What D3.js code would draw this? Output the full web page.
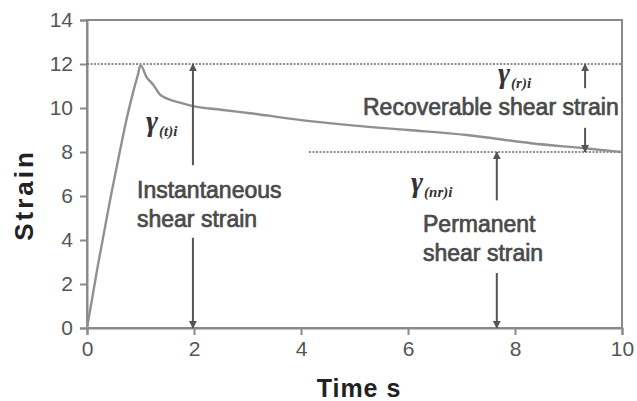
<!DOCTYPE html>
<html>
<head>
<meta charset="utf-8">
<script src="https://cdn.jsdelivr.net/npm/d3@7"></script>
<style>
  html, body { margin: 0; padding: 0; background: #fff; }
  svg { display: block; }
</style>
</head>
<body>
<svg id="chart" width="637" height="401"></svg>
<script>
// Creep-recovery strain curve
const timeS = [0, 0.2, 0.43, 0.62, 0.75, 0.86, 0.95, 1.0, 1.11, 1.24, 1.36, 1.49, 1.74, 1.96, 2.5, 3.05, 4.0, 5.0, 6.0, 7.1, 8.3, 9.3, 10];
const strain = [0, 2.8, 5.8, 8.1, 9.6, 10.7, 11.5, 11.95, 11.42, 11.05, 10.62, 10.44, 10.24, 10.1, 9.92, 9.76, 9.45, 9.2, 9.0, 8.77, 8.4, 8.17, 8.0];

const xTicks = [0, 2, 4, 6, 8, 10];
const yTicks = [0, 2, 4, 6, 8, 10, 12, 14];

// Reference levels: peak strain and permanent strain
const peakLevel = 12;
const permLevel = 8;
const permLineStart = 4.15;

// Arrows: [time, fromStrain, toStrain]
const arrows = [
  [1.98, 7.4, 12],
  [1.98, 4.1, 0],
  [9.31, 10.9, 12],
  [9.31, 9.1, 8],
  [7.66, 5.8, 8],
  [7.66, 2.5, 0]
];

const svg = d3.select("#chart");
const x = d3.scaleLinear().domain([0, 10]).range([87, 622]);
const y = d3.scaleLinear().domain([0, 14]).range([328, 20]);

const axisGray = "#8a8a8a";

svg.append("defs").append("marker")
  .attr("id", "head")
  .attr("viewBox", "0 0 10 10")
  .attr("refX", 9).attr("refY", 5)
  .attr("markerWidth", 4).attr("markerHeight", 4)
  .attr("markerUnits", "strokeWidth")
  .attr("orient", "auto")
  .append("path").attr("d", "M0,0 L10,5 L0,10 Z").attr("fill", "#555");

// frame
svg.append("rect")
  .attr("x", x(0)).attr("y", y(14))
  .attr("width", x(10) - x(0)).attr("height", y(0) - y(14))
  .attr("fill", "none").attr("stroke", axisGray).attr("stroke-width", 2);

// axes
const xAxis = svg.append("g")
  .attr("transform", `translate(0,${y(0)})`)
  .call(d3.axisBottom(x).tickValues(xTicks).tickSize(7).tickPadding(6).tickFormat(d3.format("d")));
const yAxis = svg.append("g")
  .attr("transform", `translate(${x(0)},0)`)
  .call(d3.axisLeft(y).tickValues(yTicks).tickSize(7).tickPadding(7).tickFormat(d3.format("d")));

[xAxis, yAxis].forEach(g => {
  g.select(".domain").attr("stroke", axisGray).attr("stroke-width", 2);
  g.selectAll(".tick line").attr("stroke", axisGray).attr("stroke-width", 2);
  g.selectAll(".tick text")
    .attr("fill", "#555")
    .style("font-family", "'Liberation Sans', Arial, sans-serif")
    .style("font-size", "21px");
});

// dotted reference lines
svg.append("line")
  .attr("x1", x(0)).attr("x2", x(10))
  .attr("y1", y(peakLevel)).attr("y2", y(peakLevel))
  .attr("stroke", "#666").attr("stroke-width", 1.6).attr("stroke-dasharray", "2,1.5");
svg.append("line")
  .attr("x1", x(permLineStart)).attr("x2", x(10))
  .attr("y1", y(permLevel)).attr("y2", y(permLevel))
  .attr("stroke", "#666").attr("stroke-width", 1.6).attr("stroke-dasharray", "2,1.5");

// strain curve
const pts = timeS.map((t, i) => [t, strain[i]]);
svg.append("path")
  .datum(pts)
  .attr("d", d3.line().x(d => x(d[0])).y(d => y(d[1])).curve(d3.curveMonotoneX))
  .attr("fill", "none").attr("stroke", "#909090").attr("stroke-width", 2.4)
  .attr("stroke-linejoin", "round");

// arrows
svg.selectAll(".arrow")
  .data(arrows)
  .join("line")
  .attr("class", "arrow")
  .attr("x1", d => x(d[0])).attr("x2", d => x(d[0]))
  .attr("y1", d => y(d[1])).attr("y2", d => y(d[2]))
  .attr("stroke", "#555").attr("stroke-width", 2)
  .attr("marker-end", "url(#head)");

// annotation text
const sans = "'Liberation Sans', Arial, sans-serif";
function label(lines, lx, ly) {
  const t = svg.append("text")
    .attr("x", lx).attr("y", ly)
    .attr("fill", "#4a4a4a")
    .attr("stroke", "#4a4a4a").attr("stroke-width", 0.7)
    .style("font-family", sans).style("font-size", "23px");
  lines.forEach((s, i) => t.append("tspan").attr("x", lx).attr("dy", i === 0 ? 0 : 29).text(s));
}
label(["Instantaneous", "shear strain"], 137, 198);
label(["Recoverable shear strain"], 363, 115);
label(["Permanent", "shear strain"], 423, 232);

// gamma symbols
function gamma(sub, gx, gy) {
  const t = svg.append("text")
    .attr("x", gx).attr("y", gy)
    .attr("fill", "#333")
    .style("font-family", "'Liberation Serif', 'Times New Roman', serif")
    .style("font-style", "italic").style("font-weight", "bold");
  t.append("tspan").style("font-size", "29px").text("γ");
  t.append("tspan").style("font-size", "15px").attr("dx", 1).attr("dy", 5).text(sub);
}
gamma("(t)i", 146, 131);
gamma("(r)i", 498, 83);
gamma("(nr)i", 411, 192);

// axis titles
svg.append("text")
  .attr("x", 359).attr("y", 397)
  .attr("text-anchor", "middle")
  .attr("fill", "#222")
  .style("font-family", sans).style("font-size", "25px").style("font-weight", "bold")
  .style("letter-spacing", "1px")
  .text("Time s");
svg.append("text")
  .attr("transform", "translate(33,195) rotate(-90)")
  .attr("text-anchor", "middle")
  .attr("fill", "#222")
  .style("font-family", sans).style("font-size", "26px").style("font-weight", "bold")
  .style("letter-spacing", "3px")
  .text("Strain");
</script>
</body>
</html>
